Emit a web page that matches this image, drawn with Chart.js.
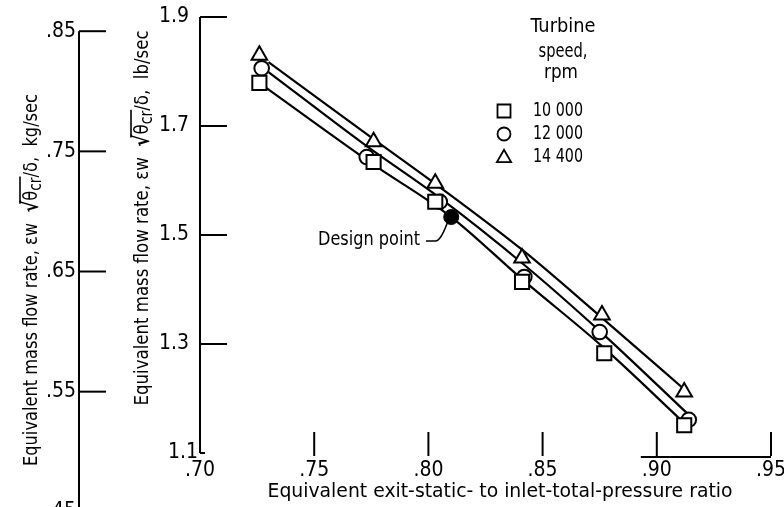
<!DOCTYPE html>
<html>
<head>
<meta charset="utf-8">
<script src="https://cdn.jsdelivr.net/npm/chart.js@4.4.1/dist/chart.umd.min.js"></script>
<style>
  html, body { margin: 0; padding: 0; background: #fff; }
  #wrap { width: 784px; height: 507px; position: relative; }
</style>
</head>
<body>
<div id="wrap"><canvas id="chart"></canvas></div>
<script>
// test points
const ratio10000 = [0.726, 0.776, 0.803, 0.841, 0.877, 0.912];
const flow10000  = [1.779, 1.634, 1.561, 1.414, 1.283, 1.151];
const ratio12000 = [0.727, 0.773, 0.805, 0.842, 0.875, 0.914];
const flow12000  = [1.806, 1.643, 1.561, 1.423, 1.322, 1.161];
const ratio14400 = [0.726, 0.776, 0.803, 0.841, 0.876, 0.912];
const flow14400  = [1.830, 1.671, 1.595, 1.458, 1.353, 1.212];
const designPoint = { x: 0.810, y: 1.533 };

// faired curves as drawn on the figure
const fairRatio10000 = [0.729, 0.775, 0.810, 0.841, 0.876, 0.912];
const fairFlow10000  = [1.770, 1.632, 1.533, 1.419, 1.296, 1.155];
const fairRatio12000 = [0.730, 0.773, 0.805, 0.842, 0.876, 0.914];
const fairFlow12000  = [1.799, 1.663, 1.568, 1.445, 1.320, 1.170];
const fairRatio14400 = [0.730, 0.776, 0.803, 0.841, 0.876, 0.912];
const fairFlow14400  = [1.817, 1.676, 1.594, 1.473, 1.348, 1.217];

const ratioTicks = [0.70, 0.75, 0.80, 0.85, 0.90, 0.95];
const ratioLabels = ['.70', '.75', '.80', '.85', '.90', '.95'];
const lbTicks = [1.1, 1.3, 1.5, 1.7, 1.9];
const lbLabels = ['1.1', '1.3', '1.5', '1.7', '1.9'];
const kgTicks = [0.45, 0.55, 0.65, 0.75, 0.85];
const kgLabels = ['.45', '.55', '.65', '.75', '.85'];
const LB_TO_KG = 0.45359;

const speedNames = ['10 000', '12 000', '14 400'];
const speedStyles = ['rect', 'circle', 'triangle'];
const speedRadius = [10, 7.3, 9];

const FONT = '"Liberation Sans Narrow", "DejaVu Sans Condensed", "Roboto Condensed", sans-serif';

function toPoints(xs, ys) {
    return xs.map((v, i) => ({ x: v, y: ys[i] }));
}

function markers(label, xs, ys, i) {
    return {
        label: label,
        data: toPoints(xs, ys),
        showLine: false,
        pointStyle: speedStyles[i],
        pointRadius: speedRadius[i],
        pointBackgroundColor: '#fff',
        pointBorderColor: '#000',
        pointBorderWidth: 2,
        order: 0
    };
}

function fairing(xs, ys) {
    return {
        label: '',
        data: toPoints(xs, ys),
        showLine: true,
        borderColor: '#000',
        borderWidth: 2.2,
        cubicInterpolationMode: 'monotone',
        pointRadius: 0,
        order: 1
    };
}

// lettering fitted to a given width
function fitText(ctx, text, x, y, width, align) {
    const w = ctx.measureText(text).width;
    const sx = width ? width / w : 1;
    ctx.save();
    ctx.translate(x, y);
    ctx.scale(sx, 1);
    let left = 0;
    if (align === 'center') left = -w / 2;
    if (align === 'right') left = -w;
    ctx.textAlign = 'left';
    ctx.fillText(text, left, 0);
    ctx.restore();
}

// rotated axis title: "Equivalent mass flow rate, εw √θcr/δ, unit"
function flowTitle(ctx, cx, cy, length, unit) {
    const size = 20;
    const parts = [
        { t: 'Equivalent mass flow rate, \u03b5w  ', f: size + 'px ' + FONT, dy: 0 },
        { t: '\u221a', f: 'bold ' + (size + 2) + 'px ' + FONT, dy: 0, root: true },
        { t: '\u03b8', f: size + 'px ' + FONT, dy: 0, over: true },
        { t: 'cr', f: (size - 3) + 'px ' + FONT, dy: 5, over: true },
        { t: '/\u03b4,  ' + unit, f: size + 'px ' + FONT, dy: 0 }
    ];
    let total = 0;
    parts.forEach(p => { ctx.font = p.f; p.w = ctx.measureText(p.t).width; total += p.w; });
    const sx = length / total;
    ctx.save();
    ctx.translate(cx, cy);
    ctx.rotate(-Math.PI / 2);
    ctx.scale(sx, 1);
    ctx.textBaseline = 'middle';
    ctx.textAlign = 'left';
    let pos = -total / 2;
    let overStart = null, overEnd = null;
    parts.forEach(p => {
        ctx.font = p.f;
        ctx.fillText(p.t, pos, p.dy);
        if (p.root) overStart = pos + p.w * 0.75;
        if (p.over) overEnd = pos + p.w;
        pos += p.w;
    });
    ctx.lineWidth = 1.6;
    ctx.beginPath();
    ctx.moveTo(overStart, -size * 0.6);
    ctx.lineTo(overEnd + 1, -size * 0.6);
    ctx.stroke();
    ctx.restore();
}

const paperAxes = {
    id: 'paperAxes',
    beforeDatasetsDraw(chart) {
        const ctx = chart.ctx;
        const { x, y, yKg } = chart.scales;
        const x0 = x.getPixelForValue(ratioTicks[0]);
        const yTop = y.getPixelForValue(1.9);
        const yBot = y.getPixelForValue(1.1);
        ctx.save();
        ctx.strokeStyle = '#000';
        ctx.lineWidth = 2;
        const seg = (a, b, c, d) => { ctx.beginPath(); ctx.moveTo(a, b); ctx.lineTo(c, d); ctx.stroke(); };

        // lb/sec axis with inward ticks
        seg(x0, yTop, x0, yBot);
        lbTicks.forEach(v => {
            const p = y.getPixelForValue(v);
            if (v > 1.1) seg(x0, p, x0 + 27, p);
            else seg(x0, p, x0 + 5, p);
        });

        // pressure ratio ticks standing on the bottom
        ratioTicks.forEach((v, i) => {
            if (i === 0) return;
            const p = x.getPixelForValue(v);
            seg(p, yBot - 21, p, yBot + 3);
        });
        seg(x.getPixelForValue(0.893), yBot + 4, x.getPixelForValue(0.95), yBot + 4);

        // kg/sec axis, off to the left
        const xk = 79;
        seg(xk, yKg.getPixelForValue(0.85), xk, chart.height);
        kgTicks.forEach(v => {
            const p = yKg.getPixelForValue(v);
            seg(xk, p, xk + 27, p);
        });
        ctx.restore();
    },
    afterDraw(chart) {
        const ctx = chart.ctx;
        const { x, y, yKg } = chart.scales;
        const x0 = x.getPixelForValue(ratioTicks[0]);
        const yBot = y.getPixelForValue(1.1);
        ctx.save();
        ctx.fillStyle = '#000';
        ctx.strokeStyle = '#000';
        ctx.textBaseline = 'middle';

        // tick labels
        ctx.font = '21px ' + FONT;
        lbTicks.forEach((v, i) => {
            const p = y.getPixelForValue(v);
            fitText(ctx, lbLabels[i], i === 0 ? x0 - 2 : x0 - 11, p, 0, 'right');
        });
        ratioTicks.forEach((v, i) => {
            fitText(ctx, ratioLabels[i], x.getPixelForValue(v), yBot + 18, 0, 'center');
        });
        kgTicks.forEach((v, i) => {
            fitText(ctx, kgLabels[i], 76, yKg.getPixelForValue(v), 0, 'right');
        });

        // axis titles
        ctx.font = '20px ' + FONT;
        fitText(ctx, 'Equivalent exit-static- to inlet-total-pressure ratio', 500, 492, 465, 'center');
        flowTitle(ctx, 143, 218, 375, 'lb/sec');
        flowTitle(ctx, 32, 280, 372, 'kg/sec');

        // legend
        ctx.font = '20px ' + FONT;
        fitText(ctx, 'Turbine', 563, 27, 65, 'center');
        fitText(ctx, 'speed,', 563, 52, 49, 'center');
        fitText(ctx, 'rpm', 561, 73, 34, 'center');
        const rows = [111, 134, 157];
        speedNames.forEach((name, i) => {
            ctx.fillStyle = '#fff';
            ctx.strokeStyle = '#000';
            ctx.lineWidth = 1.8;
            Chart.helpers.drawPoint(ctx, {
                pointStyle: speedStyles[i],
                radius: speedRadius[i] - 0.8,
                borderWidth: 1.8,
                rotation: 0
            }, 504, rows[i] + (i === 2 ? 1 : 0));
            ctx.fillStyle = '#000';
            fitText(ctx, name, 533, rows[i], 50, 'left');
        });

        // design point note
        ctx.font = '20px ' + FONT;
        fitText(ctx, 'Design point', 318, 240, 102, 'left');
        const dx = x.getPixelForValue(designPoint.x);
        const dy = y.getPixelForValue(designPoint.y);
        ctx.lineWidth = 1.6;
        ctx.beginPath();
        ctx.moveTo(426, 241);
        ctx.lineTo(436, 241);
        ctx.quadraticCurveTo(441, 240, dx - 4, dy + 6);
        ctx.stroke();
        ctx.restore();
    }
};

new Chart(document.getElementById('chart'), {
    type: 'scatter',
    data: {
        datasets: [
            markers(speedNames[0], ratio10000, flow10000, 0),
            markers(speedNames[1], ratio12000, flow12000, 1),
            markers(speedNames[2], ratio14400, flow14400, 2),
            fairing(fairRatio10000, fairFlow10000),
            fairing(fairRatio12000, fairFlow12000),
            fairing(fairRatio14400, fairFlow14400),
            {
                label: 'Design point',
                data: [designPoint],
                pointStyle: 'circle',
                pointRadius: 7.5,
                pointBackgroundColor: '#000',
                pointBorderColor: '#000',
                pointBorderWidth: 1,
                order: -1
            }
        ]
    },
    options: {
        responsive: true,
        maintainAspectRatio: false,
        animation: false,
        events: [],
        layout: { padding: { left: 200, right: 13, top: 17, bottom: 54 } },
        scales: {
            x: { type: 'linear', min: 0.70, max: 0.95, display: false },
            y: { type: 'linear', min: 1.1, max: 1.9, display: false },
            yKg: { type: 'linear', min: 1.1 * LB_TO_KG, max: 1.9 * LB_TO_KG, display: false }
        },
        plugins: {
            legend: { display: false },
            tooltip: { enabled: false }
        }
    },
    plugins: [paperAxes]
});
</script>
</body>
</html>
